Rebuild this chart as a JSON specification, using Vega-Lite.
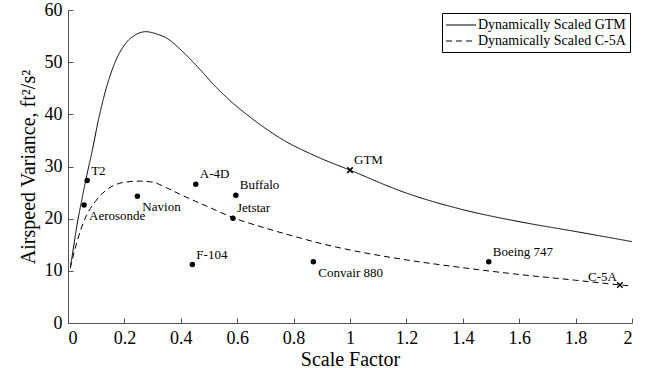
{
  "$schema": "https://vega.github.io/schema/vega-lite/v6.json",
  "width": 564,
  "height": 313,
  "autosize": {"type": "none"},
  "padding": {"left": 68, "top": 10, "right": 17, "bottom": 45},
  "background": "white",
  "config": {
    "view": {"stroke": null},
    "font": "Liberation Serif",
    "legend": {"labelFont": "Liberation Serif"},
    "axis": {
      "domainColor": "#555",
      "tickColor": "#555",
      "grid": false,
      "labelFont": "Liberation Serif",
      "titleFont": "Liberation Serif",
      "labelColor": "black",
      "titleColor": "black",
      "labelFontSize": 18,
      "titleFontSize": 20,
      "titleFontWeight": "normal",
      "tickSize": -5
    }
  },
  "datasets": {
    "curves": [
      {"series": "Dynamically Scaled GTM", "x": 0.009, "y": 11.0},
      {"series": "Dynamically Scaled GTM", "x": 0.014, "y": 12.6},
      {"series": "Dynamically Scaled GTM", "x": 0.032, "y": 18.8},
      {"series": "Dynamically Scaled GTM", "x": 0.05, "y": 23.9},
      {"series": "Dynamically Scaled GTM", "x": 0.067, "y": 28.4},
      {"series": "Dynamically Scaled GTM", "x": 0.085, "y": 32.8},
      {"series": "Dynamically Scaled GTM", "x": 0.109, "y": 39.2},
      {"series": "Dynamically Scaled GTM", "x": 0.132, "y": 44.3},
      {"series": "Dynamically Scaled GTM", "x": 0.168, "y": 50.1},
      {"series": "Dynamically Scaled GTM", "x": 0.209, "y": 53.9},
      {"series": "Dynamically Scaled GTM", "x": 0.235, "y": 55.1},
      {"series": "Dynamically Scaled GTM", "x": 0.262, "y": 55.75},
      {"series": "Dynamically Scaled GTM", "x": 0.277, "y": 55.85},
      {"series": "Dynamically Scaled GTM", "x": 0.295, "y": 55.7},
      {"series": "Dynamically Scaled GTM", "x": 0.32, "y": 55.3},
      {"series": "Dynamically Scaled GTM", "x": 0.35, "y": 54.6},
      {"series": "Dynamically Scaled GTM", "x": 0.409, "y": 51.9},
      {"series": "Dynamically Scaled GTM", "x": 0.468, "y": 48.6},
      {"series": "Dynamically Scaled GTM", "x": 0.527, "y": 45.1},
      {"series": "Dynamically Scaled GTM", "x": 0.586, "y": 42.1},
      {"series": "Dynamically Scaled GTM", "x": 0.645, "y": 39.5},
      {"series": "Dynamically Scaled GTM", "x": 0.763, "y": 35.1},
      {"series": "Dynamically Scaled GTM", "x": 0.882, "y": 31.9},
      {"series": "Dynamically Scaled GTM", "x": 1.0, "y": 29.3},
      {"series": "Dynamically Scaled GTM", "x": 1.2, "y": 24.9},
      {"series": "Dynamically Scaled GTM", "x": 1.402, "y": 21.7},
      {"series": "Dynamically Scaled GTM", "x": 1.603, "y": 19.4},
      {"series": "Dynamically Scaled GTM", "x": 1.804, "y": 17.5},
      {"series": "Dynamically Scaled GTM", "x": 2.0, "y": 15.6},
      {"series": "Dynamically Scaled C-5A", "x": 0.008, "y": 10.5},
      {"series": "Dynamically Scaled C-5A", "x": 0.02, "y": 13.2},
      {"series": "Dynamically Scaled C-5A", "x": 0.032, "y": 15.6},
      {"series": "Dynamically Scaled C-5A", "x": 0.061, "y": 20.1},
      {"series": "Dynamically Scaled C-5A", "x": 0.097, "y": 23.3},
      {"series": "Dynamically Scaled C-5A", "x": 0.144, "y": 25.8},
      {"series": "Dynamically Scaled C-5A", "x": 0.203, "y": 27.0},
      {"series": "Dynamically Scaled C-5A", "x": 0.255, "y": 27.2},
      {"series": "Dynamically Scaled C-5A", "x": 0.3, "y": 27.0},
      {"series": "Dynamically Scaled C-5A", "x": 0.35, "y": 25.9},
      {"series": "Dynamically Scaled C-5A", "x": 0.4, "y": 24.6},
      {"series": "Dynamically Scaled C-5A", "x": 0.5, "y": 22.2},
      {"series": "Dynamically Scaled C-5A", "x": 0.585, "y": 20.2},
      {"series": "Dynamically Scaled C-5A", "x": 0.7, "y": 18.2},
      {"series": "Dynamically Scaled C-5A", "x": 0.823, "y": 16.3},
      {"series": "Dynamically Scaled C-5A", "x": 0.9, "y": 15.2},
      {"series": "Dynamically Scaled C-5A", "x": 1.0, "y": 14.0},
      {"series": "Dynamically Scaled C-5A", "x": 1.2, "y": 12.1},
      {"series": "Dynamically Scaled C-5A", "x": 1.4, "y": 10.6},
      {"series": "Dynamically Scaled C-5A", "x": 1.6, "y": 9.3},
      {"series": "Dynamically Scaled C-5A", "x": 1.8, "y": 8.2},
      {"series": "Dynamically Scaled C-5A", "x": 1.957, "y": 7.3},
      {"series": "Dynamically Scaled C-5A", "x": 1.987, "y": 7.15}
    ],
    "aircraft": [
      {"name": "T2", "x": 0.068, "y": 27.3},
      {"name": "Aerosonde", "x": 0.057, "y": 22.6},
      {"name": "Navion", "x": 0.246, "y": 24.3},
      {"name": "A-4D", "x": 0.453, "y": 26.6},
      {"name": "Buffalo", "x": 0.595, "y": 24.5},
      {"name": "Jetstar", "x": 0.585, "y": 20.1},
      {"name": "F-104", "x": 0.441, "y": 11.2},
      {"name": "Convair 880", "x": 0.87, "y": 11.75},
      {"name": "Boeing 747", "x": 1.492, "y": 11.75}
    ],
    "scaled": [
      {"name": "GTM", "x": 1.0, "y": 29.3},
      {"name": "C-5A", "x": 1.957, "y": 7.28}
    ]
  },
  "layer": [
    {
      "data": {"name": "curves"},
      "mark": {"type": "line", "color": "black", "strokeWidth": 1, "interpolate": "monotone"},
      "encoding": {
        "x": {
          "field": "x", "type": "quantitative",
          "scale": {"domain": [0, 2], "nice": false},
          "axis": {"title": "Scale Factor", "values": [0, 0.2, 0.4, 0.6, 0.8, 1, 1.2, 1.4, 1.6, 1.8, 2], "format": "~g", "labelPadding": 11, "titlePadding": 2}
        },
        "y": {
          "field": "y", "type": "quantitative",
          "scale": {"domain": [0, 60], "nice": false},
          "axis": {"title": "Airspeed Variance, ft²/s²", "values": [0, 10, 20, 30, 40, 50, 60], "labelPadding": 11, "titlePadding": 6}
        },
        "strokeDash": {
          "field": "series", "type": "nominal",
          "scale": {"domain": ["Dynamically Scaled GTM", "Dynamically Scaled C-5A"], "range": [[1, 0], [6, 4]]},
          "legend": {
            "title": null,
            "orient": "none",
            "legendX": 374,
            "legendY": 3,
            "strokeColor": "black",
            "fillColor": "white",
            "padding": 4,
            "symbolType": "M-2,0L2,0",
            "symbolSize": 225,
            "symbolOffset": 7,
            "symbolStrokeWidth": 1,
            "symbolStrokeColor": "black",
            "labelFont": "Liberation Serif",
            "labelFontSize": 14,
            "labelColor": "black",
            "rowPadding": 1,
            "labelOffset": 9
          }
        },
        "detail": {"field": "series"}
      }
    },
    {
      "data": {"name": "aircraft"},
      "mark": {"type": "point", "filled": true, "color": "black", "size": 30, "opacity": 1},
      "encoding": {
        "x": {"field": "x", "type": "quantitative"},
        "y": {"field": "y", "type": "quantitative"}
      }
    },
    {
      "data": {"name": "scaled"},
      "mark": {"type": "point", "shape": "M-1,-1L1,1M1,-1L-1,1", "filled": false, "color": "black", "strokeWidth": 1.6, "size": 30, "opacity": 1},
      "encoding": {
        "x": {"field": "x", "type": "quantitative"},
        "y": {"field": "y", "type": "quantitative"}
      }
    },
    {
      "data": {"name": "aircraft"},
      "transform": [{"filter": {"field": "name", "oneOf": ["T2", "A-4D", "Buffalo", "Jetstar", "F-104", "Boeing 747"]}}],
      "mark": {"type": "text", "align": "left", "baseline": "middle", "dx": 4, "dy": -10, "font": "Liberation Serif", "fontSize": 13, "color": "black"},
      "encoding": {
        "x": {"field": "x", "type": "quantitative"},
        "y": {"field": "y", "type": "quantitative"},
        "text": {"field": "name"}
      }
    },
    {
      "data": {"name": "aircraft"},
      "transform": [{"filter": {"field": "name", "oneOf": ["Aerosonde", "Navion", "Convair 880"]}}],
      "mark": {"type": "text", "align": "left", "baseline": "middle", "dx": 5, "dy": 11, "font": "Liberation Serif", "fontSize": 13, "color": "black"},
      "encoding": {
        "x": {"field": "x", "type": "quantitative"},
        "y": {"field": "y", "type": "quantitative"},
        "text": {"field": "name"}
      }
    },
    {
      "data": {"name": "scaled"},
      "transform": [{"filter": {"field": "name", "equal": "GTM"}}],
      "mark": {"type": "text", "align": "left", "baseline": "middle", "dx": 4, "dy": -10, "font": "Liberation Serif", "fontSize": 13, "color": "black"},
      "encoding": {
        "x": {"field": "x", "type": "quantitative"},
        "y": {"field": "y", "type": "quantitative"},
        "text": {"field": "name"}
      }
    },
    {
      "data": {"name": "scaled"},
      "transform": [{"filter": {"field": "name", "equal": "C-5A"}}],
      "mark": {"type": "text", "align": "right", "baseline": "middle", "dx": -3, "dy": -8, "font": "Liberation Serif", "fontSize": 13, "color": "black"},
      "encoding": {
        "x": {"field": "x", "type": "quantitative"},
        "y": {"field": "y", "type": "quantitative"},
        "text": {"field": "name"}
      }
    }
  ]
}
